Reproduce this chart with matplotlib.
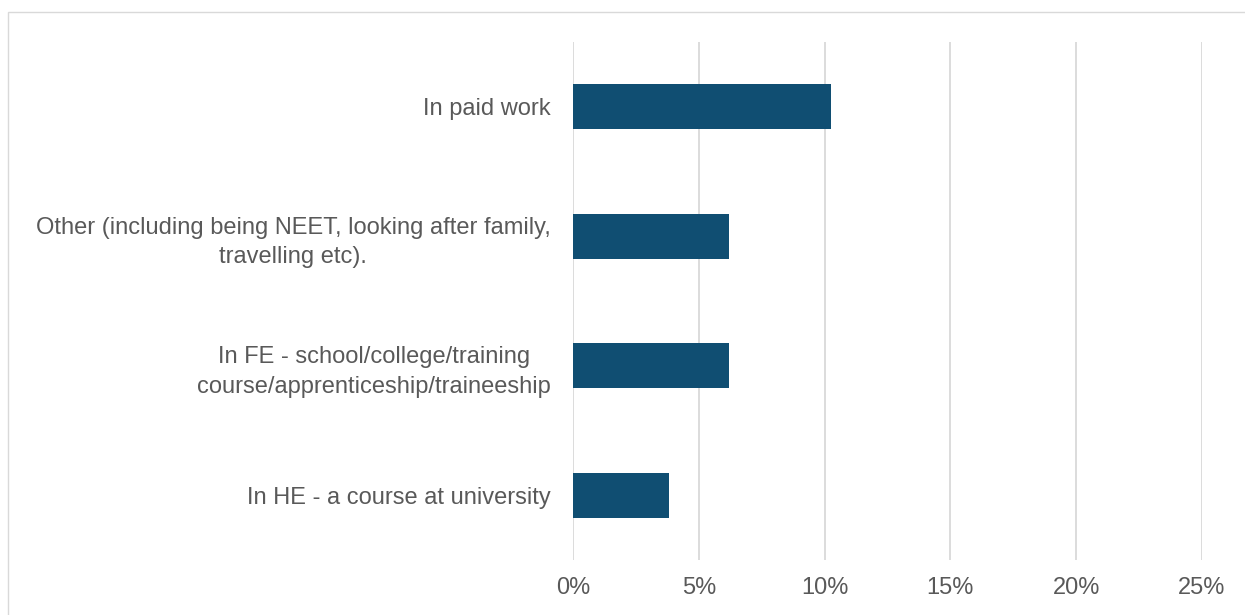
import matplotlib.pyplot as plt
from matplotlib.patches import Rectangle
from matplotlib.ticker import FuncFormatter

plt.rcParams['font.family'] = ['Liberation Sans', 'DejaVu Sans']

# Datos
categorias = ["In paid work",
              "Other (including being NEET, looking after family,\ntravelling etc).",
              "In FE - school/college/training\ncourse/apprenticeship/traineeship",
              "In HE - a course at university"]
valores = [10.25, 6.2, 6.2, 3.8]
ticks_x = [0, 5, 10, 15, 20, 25]

gris = "#595959"
azul = "#104E72"

fig = plt.figure(figsize=(12.45, 6.15), dpi=100)
ax = fig.add_axes([0.4602, 0.0894, 0.5053, 0.8423])

ypos = list(range(len(categorias)))
ax.barh(ypos, valores, height=0.35, color=azul, zorder=3)
ax.set_ylim(len(categorias) - 0.5, -0.5)
ax.set_xlim(0, 25)
ax.set_yticks(ypos)
ax.set_yticklabels(categorias, fontsize=17, color=gris,
                   multialignment="center", linespacing=1.45)
ax.set_xticks(ticks_x)
ax.xaxis.set_major_formatter(FuncFormatter(lambda v, p: "%d%%" % v))
ax.tick_params(axis="x", labelsize=17, labelcolor=gris, length=0, pad=12)
ax.tick_params(axis="y", length=0, pad=16)
ax.grid(axis="x", color="#d9d9d9", linewidth=1.3, zorder=0)
for s in ax.spines.values():
    s.set_visible(False)

# marco del grafico
fig.patches.append(Rectangle((8/1245, -0.1), 1.2, 1 - 12/615 + 0.1,
                             transform=fig.transFigure, fill=False,
                             edgecolor="#d9d9d9", linewidth=1))

fig.savefig("out.png", dpi=100)
